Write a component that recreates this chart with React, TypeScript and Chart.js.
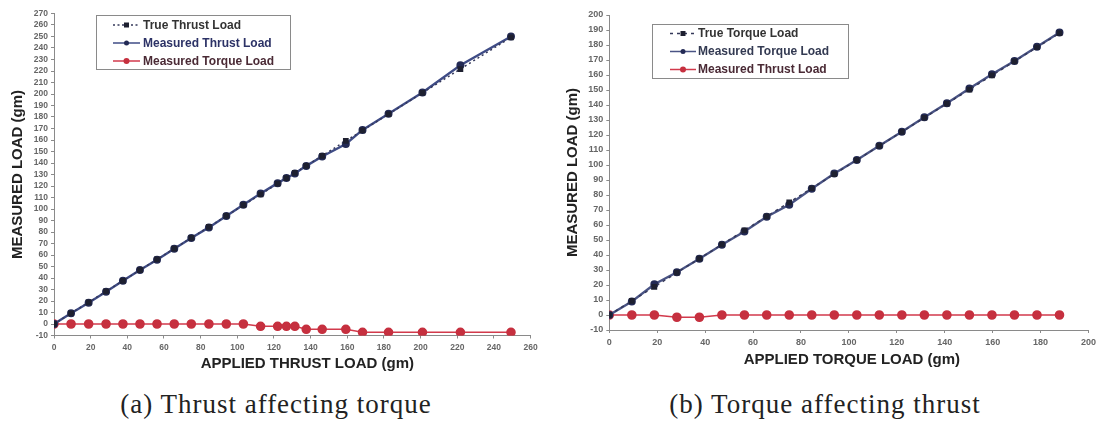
import React, { useEffect, useRef } from "react";
import { Chart, registerables } from "chart.js";

Chart.register(...registerables);

// ---- Chart (a): Thrust affecting torque ----
const thrustApplied = [0, 9.3, 18.9, 28.4, 37.6, 46.9, 56.2, 65.6, 74.9, 84.5, 94, 103.3, 112.7, 122, 126.8, 131.4, 137.6, 146.3, 159.2, 168.3, 182.5, 201, 221.7, 249.3];
const trueThrustLoad = [0, 9.3, 18.9, 28.4, 37.6, 46.9, 56.2, 65.6, 74.9, 84.5, 94, 103.3, 112.7, 122, 126.8, 131.4, 137.6, 146.3, 159.2, 168.3, 182.5, 201, 221.7, 249.3];
const measuredThrustLoad = [0, 9.3, 18.5, 28, 37.7, 47, 55.8, 65.5, 74.8, 84, 93.9, 103.8, 113.4, 122.5, 127, 130.8, 137.5, 145.6, 156.5, 168.8, 182.8, 201.3, 225, 250];
const measuredTorqueLoadA = [0, 0, 0, 0, 0, 0, 0, 0, 0, 0, 0, 0, -2, -2, -2, -2, -4.6, -4.6, -4.6, -7.2, -7.2, -7.2, -7.2, -7.2];
const xTicksA = { min: 0, max: 260, step: 20 };
const yTicksA = { min: -10, max: 270, step: 10 };

// ---- Chart (b): Torque affecting thrust ----
const torqueApplied = [0, 9.4, 18.8, 28.2, 37.6, 47, 56.4, 65.7, 75.1, 84.5, 93.9, 103.3, 112.7, 122.1, 131.5, 140.9, 150.3, 159.7, 169.1, 178.5, 187.9];
const trueTorqueLoad = [0, 9.4, 18.8, 28.2, 37.6, 47, 56.4, 65.7, 75.1, 84.5, 93.9, 103.3, 112.7, 122.1, 131.5, 140.9, 150.3, 159.7, 169.1, 178.5, 187.9];
const measuredTorqueLoadB = [0, 9, 20.5, 28.5, 37.5, 46.8, 55.6, 65.5, 73.5, 84.2, 94.3, 103.3, 112.9, 122.2, 131.8, 141.1, 151, 160.5, 169.3, 178.9, 188.3];
const measuredThrustLoadB = [0, 0, 0, -1.5, -1.5, 0, 0, 0, 0, 0, 0, 0, 0, 0, 0, 0, 0, 0, 0, 0, 0];
const xTicksB = { min: 0, max: 200, step: 20 };
const yTicksB = { min: -10, max: 200, step: 10 };

const NAVY_LINE = "#3f4c86";
const NAVY_PT = "#232a55";
const RED_LINE = "#d23a4c";
const RED_PT = "#c6303f";
const FONT = "'Liberation Sans', Arial, sans-serif";

type LegendItem = {
  label: string;
  lineColor: string;
  textColor: string;
  dash: number[];
  pointStyle: "rect" | "circle";
  pointColor: string;
  radius: number;
};

function legendPlugin(items: LegendItem[], box: { x: number; y: number; w: number; h: number; row0: number; rowH: number; sx: number; ex: number; tx: number }) {
  return {
    id: "boxLegend",
    afterDraw(chart: any) {
      const ctx = chart.ctx as CanvasRenderingContext2D;
      ctx.save();
      ctx.fillStyle = "#ffffff";
      ctx.fillRect(box.x, box.y, box.w, box.h);
      ctx.strokeStyle = "#8a8a8a";
      ctx.lineWidth = 1;
      ctx.strokeRect(box.x + 0.5, box.y + 0.5, box.w, box.h);
      items.forEach((it, i) => {
        const cy = box.y + box.row0 + i * box.rowH;
        ctx.strokeStyle = it.lineColor;
        ctx.lineWidth = 1.5;
        ctx.setLineDash(it.dash);
        ctx.beginPath();
        ctx.moveTo(box.sx, cy);
        ctx.lineTo(box.ex, cy);
        ctx.stroke();
        ctx.setLineDash([]);
        const mx = (box.sx + box.ex) / 2;
        ctx.fillStyle = it.pointColor;
        if (it.pointStyle === "rect") {
          ctx.fillRect(mx - it.radius, cy - it.radius, it.radius * 2, it.radius * 2);
        } else {
          ctx.beginPath();
          ctx.arc(mx, cy, it.radius, 0, Math.PI * 2);
          ctx.fill();
        }
        ctx.fillStyle = it.textColor;
        ctx.font = `bold 12px ${FONT}`;
        ctx.textBaseline = "middle";
        ctx.textAlign = "left";
        ctx.fillText(it.label, box.tx, cy + 0.5);
      });
      ctx.restore();
    },
  };
}

function xTitlePlugin(text: string, dx: number, y: number) {
  return {
    id: "xTitle",
    afterDraw(chart: any) {
      const ctx = chart.ctx as CanvasRenderingContext2D;
      const a = chart.chartArea;
      ctx.save();
      ctx.font = `bold 15px ${FONT}`;
      ctx.fillStyle = "#222";
      ctx.textAlign = "center";
      ctx.textBaseline = "middle";
      ctx.fillText(text, (a.left + a.right) / 2 + dx, y);
      ctx.restore();
    },
  };
}

function pts(xs: number[], ys: number[]) {
  return xs.map((x, i) => ({ x, y: ys[i] }));
}

function makeScales(xr: any, yr: any, yWidth: number, xHeight: number, tickSize: number) {
  const tickFont = { family: FONT, size: tickSize, weight: "bold" as const };
  const titleFont = { family: FONT, size: 15, weight: "bold" as const };
  return {
    x: {
      type: "linear" as const,
      min: xr.min,
      max: xr.max,
      ticks: { stepSize: xr.step, font: tickFont, color: "#666", padding: 4, maxRotation: 0, autoSkip: false },
      grid: { display: true, drawOnChartArea: false, drawTicks: true, tickLength: 3, color: "#8a8a8a" },
      border: { display: true, color: "#8a8a8a", width: 1 },
      afterFit: (s: any) => { s.height = xHeight; },
    },
    y: {
      type: "linear" as const,
      min: yr.min,
      max: yr.max,
      ticks: { stepSize: yr.step, font: tickFont, color: "#666", padding: 3, autoSkip: false },
      grid: { display: true, drawOnChartArea: false, drawTicks: true, tickLength: 3, color: "#8a8a8a" },
      border: { display: true, color: "#8a8a8a", width: 1 },
      title: { display: true, text: "MEASURED LOAD (gm)", font: titleFont, color: "#222", padding: { top: 9, bottom: 0 } },
      afterFit: (s: any) => { s.width = yWidth; },
    },
  };
}

function ChartA() {
  const ref = useRef<HTMLCanvasElement>(null);
  useEffect(() => {
    const chart = new Chart(ref.current!, {
      type: "scatter",
      data: {
        datasets: [
          {
            label: "True Thrust Load",
            data: pts(thrustApplied, trueThrustLoad),
            showLine: true,
            borderColor: "#34385a",
            borderWidth: 1.5,
            borderDash: [2, 3],
            pointStyle: "rect",
            pointRadius: 3,
            backgroundColor: "#1e2030",
            pointBorderColor: "#1e2030",
          },
          {
            label: "Measured Thrust Load",
            data: pts(thrustApplied, measuredThrustLoad),
            showLine: true,
            borderColor: NAVY_LINE,
            borderWidth: 2.4,
            pointStyle: "circle",
            pointRadius: 2.8,
            backgroundColor: NAVY_PT,
            pointBorderColor: NAVY_PT,
          },
          {
            label: "Measured Torque Load",
            data: pts(thrustApplied, measuredTorqueLoadA),
            showLine: true,
            borderColor: RED_LINE,
            borderWidth: 1.6,
            pointStyle: "circle",
            pointRadius: 4,
            backgroundColor: RED_PT,
            pointBorderColor: RED_PT,
          },
        ],
      },
      options: {
        animation: false,
        responsive: false,
        layout: { padding: { top: 13.5, right: 14.4, left: 0, bottom: 0 } },
        plugins: { legend: { display: false }, tooltip: { enabled: false } },
        scales: makeScales(xTicksA, yTicksA, 54, 44.5, 8.5),
      },
      plugins: [
        xTitlePlugin("APPLIED THRUST LOAD (gm)", 15, 364),
        legendPlugin(
          [
            { label: "True Thrust Load", lineColor: "#34385a", textColor: "#333", dash: [2, 2.5], pointStyle: "rect", pointColor: "#1e2030", radius: 2.5 },
            { label: "Measured Thrust Load", lineColor: NAVY_LINE, textColor: "#2c3266", dash: [], pointStyle: "circle", pointColor: NAVY_PT, radius: 2.5 },
            { label: "Measured Torque Load", lineColor: RED_LINE, textColor: "#4a2a35", dash: [], pointStyle: "circle", pointColor: RED_PT, radius: 3 },
          ],
          { x: 96, y: 15, w: 194, h: 54, row0: 10, rowH: 18, sx: 113, ex: 140, tx: 143 }
        ),
      ],
    });
    return () => chart.destroy();
  }, []);
  return <canvas ref={ref} width={545} height={380} style={{ position: "absolute", left: 0, top: 0, width: 545, height: 380 }} />;
}

function ChartB() {
  const ref = useRef<HTMLCanvasElement>(null);
  useEffect(() => {
    const chart = new Chart(ref.current!, {
      type: "scatter",
      data: {
        datasets: [
          {
            label: "True Torque Load",
            data: pts(torqueApplied, trueTorqueLoad),
            showLine: true,
            borderColor: "#34385a",
            borderWidth: 1.5,
            borderDash: [3, 4],
            pointStyle: "rect",
            pointRadius: 3,
            backgroundColor: "#1e2030",
            pointBorderColor: "#1e2030",
          },
          {
            label: "Measured Torque Load",
            data: pts(torqueApplied, measuredTorqueLoadB),
            showLine: true,
            borderColor: "#4a5485",
            borderWidth: 2.4,
            pointStyle: "circle",
            pointRadius: 2.8,
            backgroundColor: NAVY_PT,
            pointBorderColor: NAVY_PT,
          },
          {
            label: "Measured Thrust Load",
            data: pts(torqueApplied, measuredThrustLoadB),
            showLine: true,
            borderColor: RED_LINE,
            borderWidth: 1.6,
            pointStyle: "circle",
            pointRadius: 4,
            backgroundColor: RED_PT,
            pointBorderColor: RED_PT,
          },
        ],
      },
      options: {
        animation: false,
        responsive: false,
        layout: { padding: { top: 15, right: 9.7, left: 0, bottom: 0 } },
        plugins: { legend: { display: false }, tooltip: { enabled: false } },
        scales: makeScales(xTicksB, yTicksB, 54.3, 50, 9),
      },
      plugins: [
        xTitlePlugin("APPLIED TORQUE LOAD (gm)", 3, 360),
        legendPlugin(
          [
            { label: "True Torque Load", lineColor: "#34385a", textColor: "#333", dash: [3, 4], pointStyle: "rect", pointColor: "#1e2030", radius: 2.5 },
            { label: "Measured Torque Load", lineColor: "#4a5485", textColor: "#333a52", dash: [], pointStyle: "circle", pointColor: NAVY_PT, radius: 2.5 },
            { label: "Measured Thrust Load", lineColor: RED_LINE, textColor: "#4a2a35", dash: [], pointStyle: "circle", pointColor: RED_PT, radius: 3 },
          ],
          { x: 97, y: 24, w: 196, h: 54, row0: 9.5, rowH: 18, sx: 115, ex: 141, tx: 143 }
        ),
      ],
    });
    return () => chart.destroy();
  }, []);
  return <canvas ref={ref} width={545} height={380} style={{ position: "absolute", left: 555, top: 0, width: 545, height: 380 }} />;
}

const captionStyle: React.CSSProperties = {
  position: "absolute",
  top: 388,
  width: 500,
  textAlign: "center",
  fontFamily: "'Liberation Serif', 'DejaVu Serif', serif",
  fontSize: 27,
  letterSpacing: "1px",
  lineHeight: "32px",
  color: "#222",
};

export default function App() {
  return (
    <div style={{ position: "absolute", left: 0, top: 0, width: 1100, height: 422, background: "#ffffff", overflow: "hidden" }}>
      <ChartA />
      <ChartB />
      <div style={{ ...captionStyle, left: 276 - 250 }}>(a) Thrust affecting torque</div>
      <div style={{ ...captionStyle, left: 825 - 250 }}>(b) Torque affecting thrust</div>
    </div>
  );
}
